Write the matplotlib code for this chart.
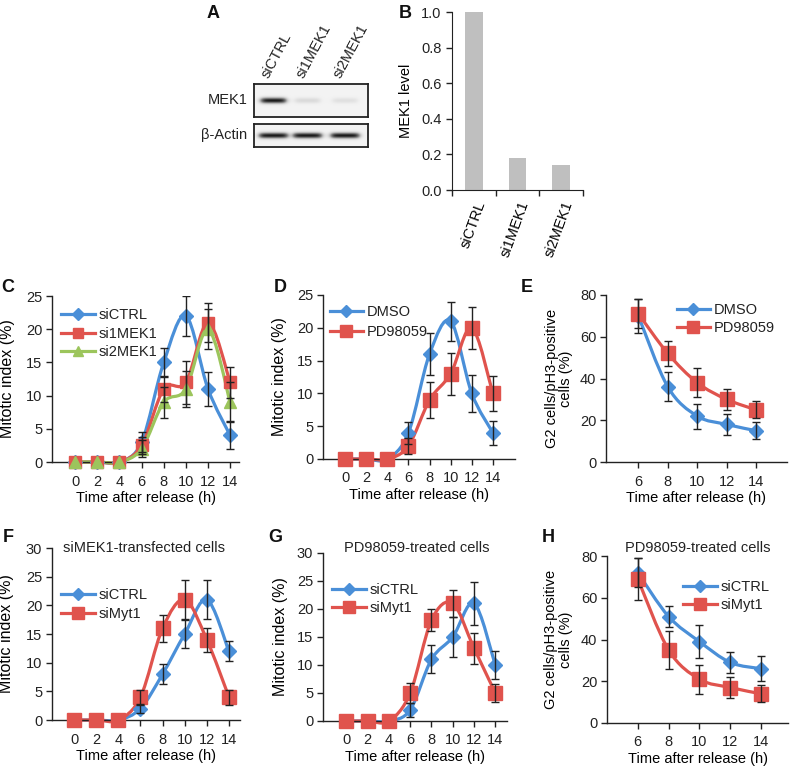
import numpy as np
import matplotlib
matplotlib.use('Agg')
import matplotlib.pyplot as plt
from matplotlib.path import Path
from matplotlib.patches import PathPatch
from matplotlib.lines import Line2D

plt.rcParams['font.family'] = ['Liberation Sans', 'DejaVu Sans']
plt.rcParams['font.size'] = 10.5
plt.rcParams['text.color'] = '#222222'

# ---- data ----
lanes = ['siCTRL', 'si1MEK1', 'si2MEK1']
mek1_level = [1.0, 0.18, 0.14]
actin_level = [1.0, 1.0, 1.0]

time = np.array([0, 2, 4, 6, 8, 10, 12, 14])
time_g2 = np.array([6, 8, 10, 12, 14])

c_sictrl = [0, 0, 0, 3, 15, 22, 11, 4]
c_sictrl_err = [0, 0, 0, 1.5, 2.2, 3.0, 2.5, 2.1]
c_si1mek1 = [0, 0, 0, 2.5, 11, 12, 21, 12]
c_si1mek1_err = [0, 0, 0, 1.3, 2.0, 3.2, 3.0, 2.3]
c_si2mek1 = [0, 0, 0, 2, 9, 11, 20, 9]
c_si2mek1_err = [0, 0, 0, 1.3, 2.3, 2.7, 3.0, 3.0]

d_dmso = [0, 0, 0, 4, 16, 21, 10, 4]
d_dmso_err = [0, 0, 0, 1.7, 3.2, 3.0, 2.8, 1.8]
d_pd = [0, 0, 0, 2, 9, 13, 20, 10]
d_pd_err = [0, 0, 0, 1.2, 2.7, 3.2, 3.2, 2.7]

e_dmso = [70, 36, 22, 18, 15]
e_dmso_err = [8, 7, 6, 5, 4]
e_pd = [71, 52, 38, 30, 25]
e_pd_err = [7, 6, 7, 5, 4]

f_sictrl = [0, 0, 0, 2, 8, 15, 21, 12]
f_sictrl_err = [0, 0, 0, 0.8, 1.7, 2.5, 3.4, 1.7]
f_myt1 = [0, 0, 0, 4, 16, 21, 14, 4]
f_myt1_err = [0, 0, 0, 1.3, 2.4, 3.4, 2.1, 1.3]

g_sictrl = [0, 0, 0, 2, 11, 15, 21, 10]
g_sictrl_err = [0, 0, 0, 1.2, 2.5, 3.5, 3.9, 2.5]
g_myt1 = [0, 0, 0, 5, 18, 21, 13, 5]
g_myt1_err = [0, 0, 0, 1.7, 2.0, 2.4, 2.8, 1.6]

h_sictrl = [72, 51, 39, 29, 26]
h_sictrl_err = [7, 5, 8, 5, 6]
h_myt1 = [69, 35, 21, 17, 14]
h_myt1_err = [10, 9, 7, 5, 4]

BLUE = '#4a8fd8'
RED = '#e0534d'
GREEN = '#9cc55c'
INK = '#222222'
FS = 10.5

W, H = 790, 768
fig = plt.figure(figsize=(W / 100, H / 100), dpi=100)


def px_axes(x0, y0, x1, y1):
    return fig.add_axes([x0 / W, 1 - y1 / H, (x1 - x0) / W, (y1 - y0) / H])


def smooth_path(x, y):
    # Excel-like smoothed line as cubic Bezier segments
    p = np.column_stack([x, y]).astype(float)
    n = len(p)
    verts, codes = [p[0]], [Path.MOVETO]
    for i in range(n - 1):
        p0 = p[i - 1] if i > 0 else p[i]
        p3 = p[i + 2] if i + 2 < n else p[i + 1]
        c1 = p[i] + (p[i + 1] - p0) / 6
        c2 = p[i + 1] - (p3 - p[i]) / 6
        verts += [c1, c2, p[i + 1]]
        codes += [Path.CURVE4] * 3
    return Path(verts, codes)


def plot_series(ax, x, y, err, color, marker, ms, label):
    x = np.asarray(x, float)
    y = np.asarray(y, float)
    err = np.asarray(err, float)
    ax.add_patch(PathPatch(smooth_path(x, y), fill=False, edgecolor=color,
                           lw=2.3, zorder=2, clip_on=False))
    ax.plot(x, y, ls='none', marker=marker, ms=ms, color=color, mec=color,
            zorder=3, clip_on=False)
    m = err > 0
    ax.errorbar(x[m], y[m], yerr=err[m], fmt='none', ecolor=INK,
                elinewidth=1.0, capsize=3, capthick=1.0, zorder=4)
    return Line2D([], [], color=color, lw=2.3, marker=marker, ms=ms * 0.85,
                  mec=color, label=label)


def style_axes(ax, xlim, xticks, ylim, yticks):
    for s in ['top', 'right']:
        ax.spines[s].set_visible(False)
    for s in ['left', 'bottom']:
        ax.spines[s].set_color(INK)
        ax.spines[s].set_linewidth(1.0)
    ax.set_xlim(*xlim)
    ax.set_ylim(*ylim)
    ax.set_xticks(xticks)
    ax.set_yticks(yticks)
    ax.tick_params(direction='out', length=4, width=1, colors=INK,
                   labelsize=FS, pad=3)
    ax.tick_params(axis='x', pad=5)
    ax.set_xlabel('Time after release (h)', fontsize=FS, labelpad=2)


def set_ylabel(ax, text, xpos, size=FS):
    ax.set_ylabel(text, fontsize=size, linespacing=1.05)
    ax.yaxis.set_label_coords(xpos, 0.5)


def add_legend(ax, handles, x, y, spacing=0.3):
    ax.legend(handles=handles, loc='upper left', bbox_to_anchor=(x, y),
              frameon=False, borderpad=0, borderaxespad=0, handlelength=2.3,
              handletextpad=0.25, labelspacing=spacing, fontsize=FS)


# ---- A: western blot ----
lane_x = [0.17, 0.47, 0.80]


def blot_image(levels, hw, sig):
    xs = np.linspace(0, 1, 300)
    ys = np.linspace(0, 1, 80)
    X, Y = np.meshgrid(xs, ys)
    img = np.zeros_like(X)
    for c, lv in zip(lane_x, levels):
        px = 1 / (1 + np.exp((np.abs(X - c) - hw) / 0.015))
        py = np.exp(-((Y - 0.5) / sig) ** 2)
        img += lv * px * py
    return img


ax_m = px_axes(254, 84, 368, 117)
ax_a = px_axes(254, 124, 368, 147)
for axb, lv, hw, sig in [(ax_m, mek1_level, 0.11, 0.09), (ax_a, actin_level, 0.125, 0.13)]:
    axb.imshow(blot_image(lv, hw, sig), cmap='Greys', vmin=-0.12, vmax=1.1,
               aspect='auto', extent=(0, 1, 0, 1))
    axb.set_xticks([])
    axb.set_yticks([])
    for s in axb.spines.values():
        s.set_linewidth(1.3)
        s.set_color(INK)
for lx, name in zip(lane_x, lanes):
    ax_m.text(lx - 0.07, 1.2, name, rotation=62, ha='left', va='center',
              rotation_mode='anchor', transform=ax_m.transAxes, fontsize=FS)
ax_m.text(-0.06, 0.5, 'MEK1', ha='right', va='center', transform=ax_m.transAxes, fontsize=FS)
ax_a.text(-0.06, 0.5, 'β-Actin', ha='right', va='center', transform=ax_a.transAxes, fontsize=FS)

# ---- B: bar chart ----
axB = px_axes(452, 12, 583, 190)
pos = np.arange(len(lanes)) + 0.5
axB.bar(pos, mek1_level, width=0.4, color='#bfbfbf', zorder=2)
for s in ['top', 'right']:
    axB.spines[s].set_visible(False)
for s in ['left', 'bottom']:
    axB.spines[s].set_color(INK)
axB.set_xlim(0, 3)
axB.set_ylim(0, 1.0)
axB.set_yticks(np.arange(0, 1.01, 0.2))
axB.set_yticklabels([f'{v:.1f}' for v in np.arange(0, 1.01, 0.2)])
axB.set_xticks([0, 1, 2, 3])
axB.set_xticklabels([])
axB.set_xticks(pos + 0.18, minor=True)
axB.set_xticklabels(lanes, minor=True, rotation=70, ha='right', va='center',
                    rotation_mode='anchor')
axB.tick_params(axis='x', which='minor', length=0, pad=8)
axB.tick_params(direction='out', length=4, width=1, colors=INK, labelsize=FS)
set_ylabel(axB, 'MEK1 level', -0.3)

# ---- C ----
axC = px_axes(52, 296, 239, 462)
style_axes(axC, (-2.1, 14.8), time, (0, 25), np.arange(0, 26, 5))
hC = [plot_series(axC, time, c_sictrl, c_sictrl_err, BLUE, 'D', 7.5, 'siCTRL'),
      plot_series(axC, time, c_si1mek1, c_si1mek1_err, RED, 's', 9, 'si1MEK1'),
      plot_series(axC, time, c_si2mek1, c_si2mek1_err, GREEN, '^', 9, 'si2MEK1')]
set_ylabel(axC, 'Mitotic index (%)', -0.2, 11.5)
add_legend(axC, hC, 0.05, 0.925, spacing=0.3)

# ---- D ----
axD = px_axes(323, 295, 515, 459)
style_axes(axD, (-2.1, 16.1), time, (0, 25), np.arange(0, 26, 5))
hD = [plot_series(axD, time, d_dmso, d_dmso_err, BLUE, 'D', 7.5, 'DMSO'),
      plot_series(axD, time, d_pd, d_pd_err, RED, 's', 9.5, 'PD98059')]
set_ylabel(axD, 'Mitotic index (%)', -0.19, 11.5)
add_legend(axD, hD, 0.035, 0.94, spacing=0.45)

# ---- E ----
axE = px_axes(606, 295, 787, 462)
style_axes(axE, (3.8, 16.1), time_g2, (0, 80), np.arange(0, 81, 20))
hE = [plot_series(axE, time_g2, e_dmso, e_dmso_err, BLUE, 'D', 7.5, 'DMSO'),
      plot_series(axE, time_g2, e_pd, e_pd_err, RED, 's', 9.5, 'PD98059')]
set_ylabel(axE, 'G2 cells/pH3-positive\ncells (%)', -0.18)
add_legend(axE, hE, 0.39, 0.95, spacing=0.25)

# ---- F ----
axF = px_axes(52, 548, 240, 720)
style_axes(axF, (-2.0, 15.0), time, (0, 30), np.arange(0, 31, 5))
hF = [plot_series(axF, time, f_sictrl, f_sictrl_err, BLUE, 'D', 7.5, 'siCTRL'),
      plot_series(axF, time, f_myt1, f_myt1_err, RED, 's', 9.5, 'siMyt1')]
set_ylabel(axF, 'Mitotic index (%)', -0.2, 11.5)
axF.text(0.49, 1.0, 'siMEK1-transfected cells', ha='center', va='center',
         transform=axF.transAxes, fontsize=FS)
add_legend(axF, hF, 0.05, 0.765, spacing=0.3)

# ---- G ----
axG = px_axes(323, 553, 507, 721)
style_axes(axG, (-2.2, 15.1), time, (0, 30), np.arange(0, 31, 5))
hG = [plot_series(axG, time, g_sictrl, g_sictrl_err, BLUE, 'D', 7.5, 'siCTRL'),
      plot_series(axG, time, g_myt1, g_myt1_err, RED, 's', 9.5, 'siMyt1')]
set_ylabel(axG, 'Mitotic index (%)', -0.19, 11.5)
axG.text(0.51, 1.03, 'PD98059-treated cells', ha='center', va='center',
         transform=axG.transAxes, fontsize=FS)
add_legend(axG, hG, 0.05, 0.82, spacing=0.25)

# ---- H ----
axH = px_axes(607, 556, 788, 723)
style_axes(axH, (4.0, 15.75), time_g2, (0, 80), np.arange(0, 81, 20))
hH = [plot_series(axH, time_g2, h_sictrl, h_sictrl_err, BLUE, 'D', 7.5, 'siCTRL'),
      plot_series(axH, time_g2, h_myt1, h_myt1_err, RED, 's', 9.5, 'siMyt1')]
set_ylabel(axH, 'G2 cells/pH3-positive\ncells (%)', -0.19)
axH.text(0.5, 1.05, 'PD98059-treated cells', ha='center', va='center',
         transform=axH.transAxes, fontsize=FS)
add_legend(axH, hH, 0.42, 0.855, spacing=0.25)

# ---- panel letters ----
letters = {'A': (213, 13), 'B': (405, 13), 'C': (8, 288), 'D': (280, 288),
           'E': (527, 288), 'F': (8, 537), 'G': (275, 537), 'H': (548, 538)}
for k, (x, y) in letters.items():
    fig.text(x / W, 1 - y / H, k, ha='center', va='center', fontsize=13,
             fontweight='bold', color='#111111')

fig.savefig('out.png', dpi=100)
